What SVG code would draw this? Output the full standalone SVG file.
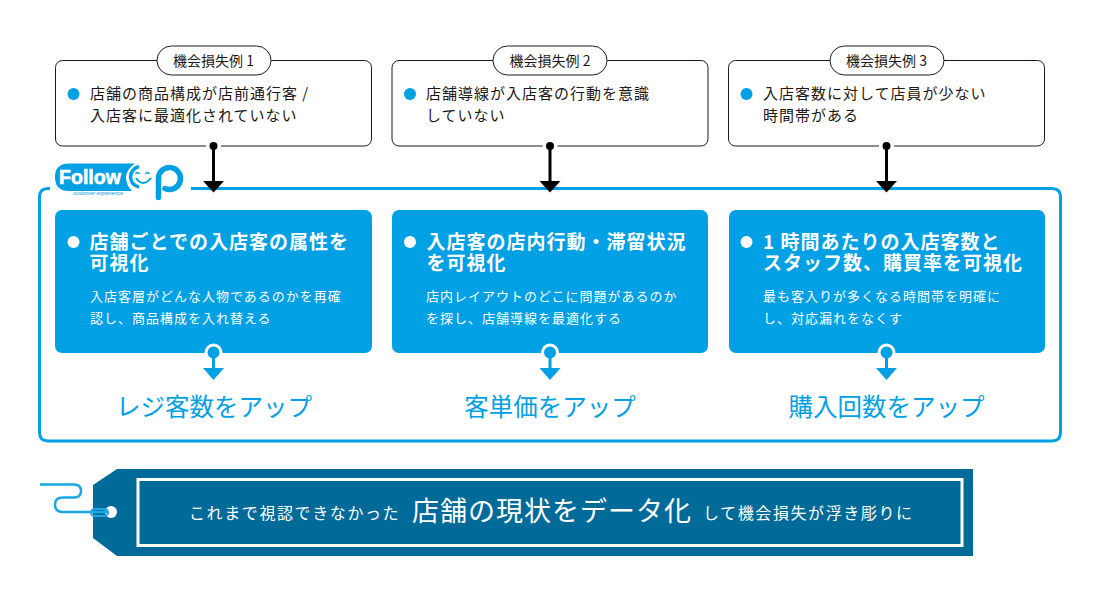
<svg xmlns="http://www.w3.org/2000/svg" width="1100" height="600" viewBox="0 0 1100 600">
<defs>
<style>
text{font-family:"Noto Sans CJK JP","Noto Sans",sans-serif}
.box{fill:#fff;stroke:#231815;stroke-width:1}
.pill{fill:#fff;stroke:#231815;stroke-width:1}
.pt{font-size:14px;fill:#231815;text-anchor:middle}
.bt{font-size:15px;letter-spacing:1px;fill:#231815}
.card{fill:#00a0e4}
.h{font-size:19px;font-weight:700;letter-spacing:1px;fill:#fff}
.s{font-size:13px;letter-spacing:1px;fill:#fff}
.r{font-size:24.500px;fill:#00a0e4;text-anchor:middle}
.w{font-size:16px;letter-spacing:1.600px;fill:#fff}
.f{fill:#00a0e4}
.k{stroke:#000;stroke-width:3;fill:none}
.b{stroke:#00a0e4;stroke-width:3;fill:none}
.notch{stroke:#fff;stroke-width:3}
</style>
</defs>
<g id="frame"><path d="M50 188.500H48Q39.500 188.500 39.500 197V432Q39.500 441 48 441H1052Q1060.500 441 1060.500 432V197Q1060.500 188.500 1052 188.500H191" fill="none" stroke="#00a0e4" stroke-width="3"/></g>
<g id="logo">
<path d="M69 163.500H135Q126 170 126 177.500Q126 185 132 191H69Q55 191 55 177Q55 163.500 69 163.500Z" class="f"/>
<text x="59" y="184" font-size="20" font-weight="700" fill="#fff" stroke="#fff" stroke-width="0.600" style="font-family:'Liberation Sans',sans-serif" textLength="62" lengthAdjust="spacingAndGlyphs">Follow</text>
<text x="73" y="195" font-size="5.500" fill="#00a0e4" style="font-family:'Liberation Sans',sans-serif;font-style:italic" textLength="50">customer experience</text>
<path d="M139 166.500Q131 169 130.500 177Q131 185 139 187" fill="none" stroke="#00a0e4" stroke-width="3.500"/>
<path d="M135.500 174q2 -3 4 0M145.500 174q2 -3 4 0" fill="none" stroke="#00a0e4" stroke-width="1.500"/>
<path d="M136 178Q143 188 151 178" fill="none" stroke="#00a0e4" stroke-width="2"/>
<path d="M158.500 197.500V178A11 11 0 1 1 165 188.500" fill="none" stroke="#00a0e4" stroke-width="5.500" stroke-linecap="round"/>
</g>
<g id="case1">
<rect class="box" x="55.500" y="60.500" width="316" height="85.500" rx="7"/>
<rect class="pill" x="157" y="46" width="114" height="29" rx="14.500"/>
<text class="pt" x="213.500" y="66">機会損失例 1</text>
<circle class="f" cx="73.500" cy="94" r="6"/>
<text class="bt" x="90" y="99">店舗の商品構成が店前通行客 /</text>
<text class="bt" x="90" y="121">入店客に最適化されていない</text>
</g>
<g id="case2">
<rect class="box" x="392" y="60.500" width="316" height="85.500" rx="7"/>
<rect class="pill" x="493" y="46" width="114" height="29" rx="14.500"/>
<text class="pt" x="550" y="66">機会損失例 2</text>
<circle class="f" cx="410" cy="94" r="6"/>
<text class="bt" x="426" y="99">店舗導線が入店客の行動を意識</text>
<text class="bt" x="426" y="121">していない</text>
</g>
<g id="case3">
<rect class="box" x="728.500" y="60.500" width="316" height="85.500" rx="7"/>
<rect class="pill" x="830" y="46" width="114" height="29" rx="14.500"/>
<text class="pt" x="886.500" y="66">機会損失例 3</text>
<circle class="f" cx="746.500" cy="94" r="6"/>
<text class="bt" x="763" y="99">入店客数に対して店員が少ない</text>
<text class="bt" x="763" y="121">時間帯がある</text>
</g>
<g id="connectors">
<path class="notch" d="M206 146H221"/><circle cx="213.500" cy="146" r="4" fill="#000"/><path class="k" d="M213.500 146V184"/><path d="M203 181H224L213.500 192.500Z" fill="#000"/>
<path class="notch" d="M542.500 146H557.500"/><circle cx="550" cy="146" r="4" fill="#000"/><path class="k" d="M550 146V184"/><path d="M539.500 181H560.500L550 192.500Z" fill="#000"/>
<path class="notch" d="M879 146H894"/><circle cx="886.500" cy="146" r="4" fill="#000"/><path class="k" d="M886.500 146V184"/><path d="M876 181H897L886.500 192.500Z" fill="#000"/>
</g>
<g id="card1">
<rect class="card" x="55" y="210" width="317" height="143" rx="7"/>
<circle cx="73.500" cy="242" r="6" fill="#fff"/>
<text class="h" y="248.500"><tspan x="89.500">店舗ごとでの入店客の属性を</tspan><tspan x="89.500" y="270">可視化</tspan></text>
<text class="s" x="90" y="301">入店客層がどんな人物であるのかを再確</text>
<text class="s" x="90" y="323">認し、商品構成を入れ替える</text>
</g>
<g id="card2">
<rect class="card" x="392" y="210" width="316" height="143" rx="7"/>
<circle cx="410" cy="242" r="6" fill="#fff"/>
<text class="h" y="248.500"><tspan x="426.500">入店客の店内行動・滞留状況</tspan><tspan x="426.500" y="270">を可視化</tspan></text>
<text class="s" x="426" y="301">店内レイアウトのどこに問題があるのか</text>
<text class="s" x="426" y="323">を探し、店舗導線を最適化する</text>
</g>
<g id="card3">
<rect class="card" x="729" y="210" width="316" height="143" rx="7"/>
<circle cx="746.500" cy="242" r="6" fill="#fff"/>
<text class="h" y="248.500"><tspan x="763">1 時間あたりの入店客数と</tspan><tspan x="763" y="270">スタッフ数、購買率を可視化</tspan></text>
<text class="s" x="763" y="301">最も客入りが多くなる時間帯を明確に</text>
<text class="s" x="763" y="323">し、対応漏れをなくす</text>
</g>
<g id="blue-connectors">
<circle cx="213.500" cy="352.500" r="7.500" fill="#00a0e4" stroke="#fff" stroke-width="3"/><path class="b" d="M213.500 352V372"/><path d="M203 368H224L213.500 380Z" class="f"/>
<circle cx="550" cy="352.500" r="7.500" fill="#00a0e4" stroke="#fff" stroke-width="3"/><path class="b" d="M550 352V372"/><path d="M539.500 368H560.500L550 380Z" class="f"/>
<circle cx="886.500" cy="352.500" r="7.500" fill="#00a0e4" stroke="#fff" stroke-width="3"/><path class="b" d="M886.500 352V372"/><path d="M876 368H897L886.500 380Z" class="f"/>
</g>
<g id="result1"><text class="r" x="214" y="416">レジ客数をアップ</text></g>
<g id="result2"><text class="r" x="550" y="416">客単価をアップ</text></g>
<g id="result3"><text class="r" x="886.500" y="416">購入回数をアップ</text></g>
<g id="tag">
<path d="M117 469H973V556H117L93 538V485Z" fill="#006a99"/>
<rect x="138" y="479.500" width="824" height="66" fill="none" stroke="#fff" stroke-width="3"/>
<circle cx="111" cy="512" r="6" fill="#fff"/>
<path d="M40 484.500H74Q81 484.500 81 491Q81 497.500 74 497.500H63Q55 497.500 55 504.500Q55 512 63 512H107" fill="none" stroke="#1aa7e4" stroke-width="2.500"/>
<rect x="91" y="509" width="17" height="7" rx="3.500" fill="none" stroke="#1aa7e4" stroke-width="2"/>
<text class="w" x="189" y="519">これまで視認できなかった</text>
<text x="412" y="521" font-size="27" letter-spacing="1" fill="#fff">店舗の現状をデータ化</text>
<text class="w" x="703" y="519">して機会損失が浮き彫りに</text>
</g>
</svg>
